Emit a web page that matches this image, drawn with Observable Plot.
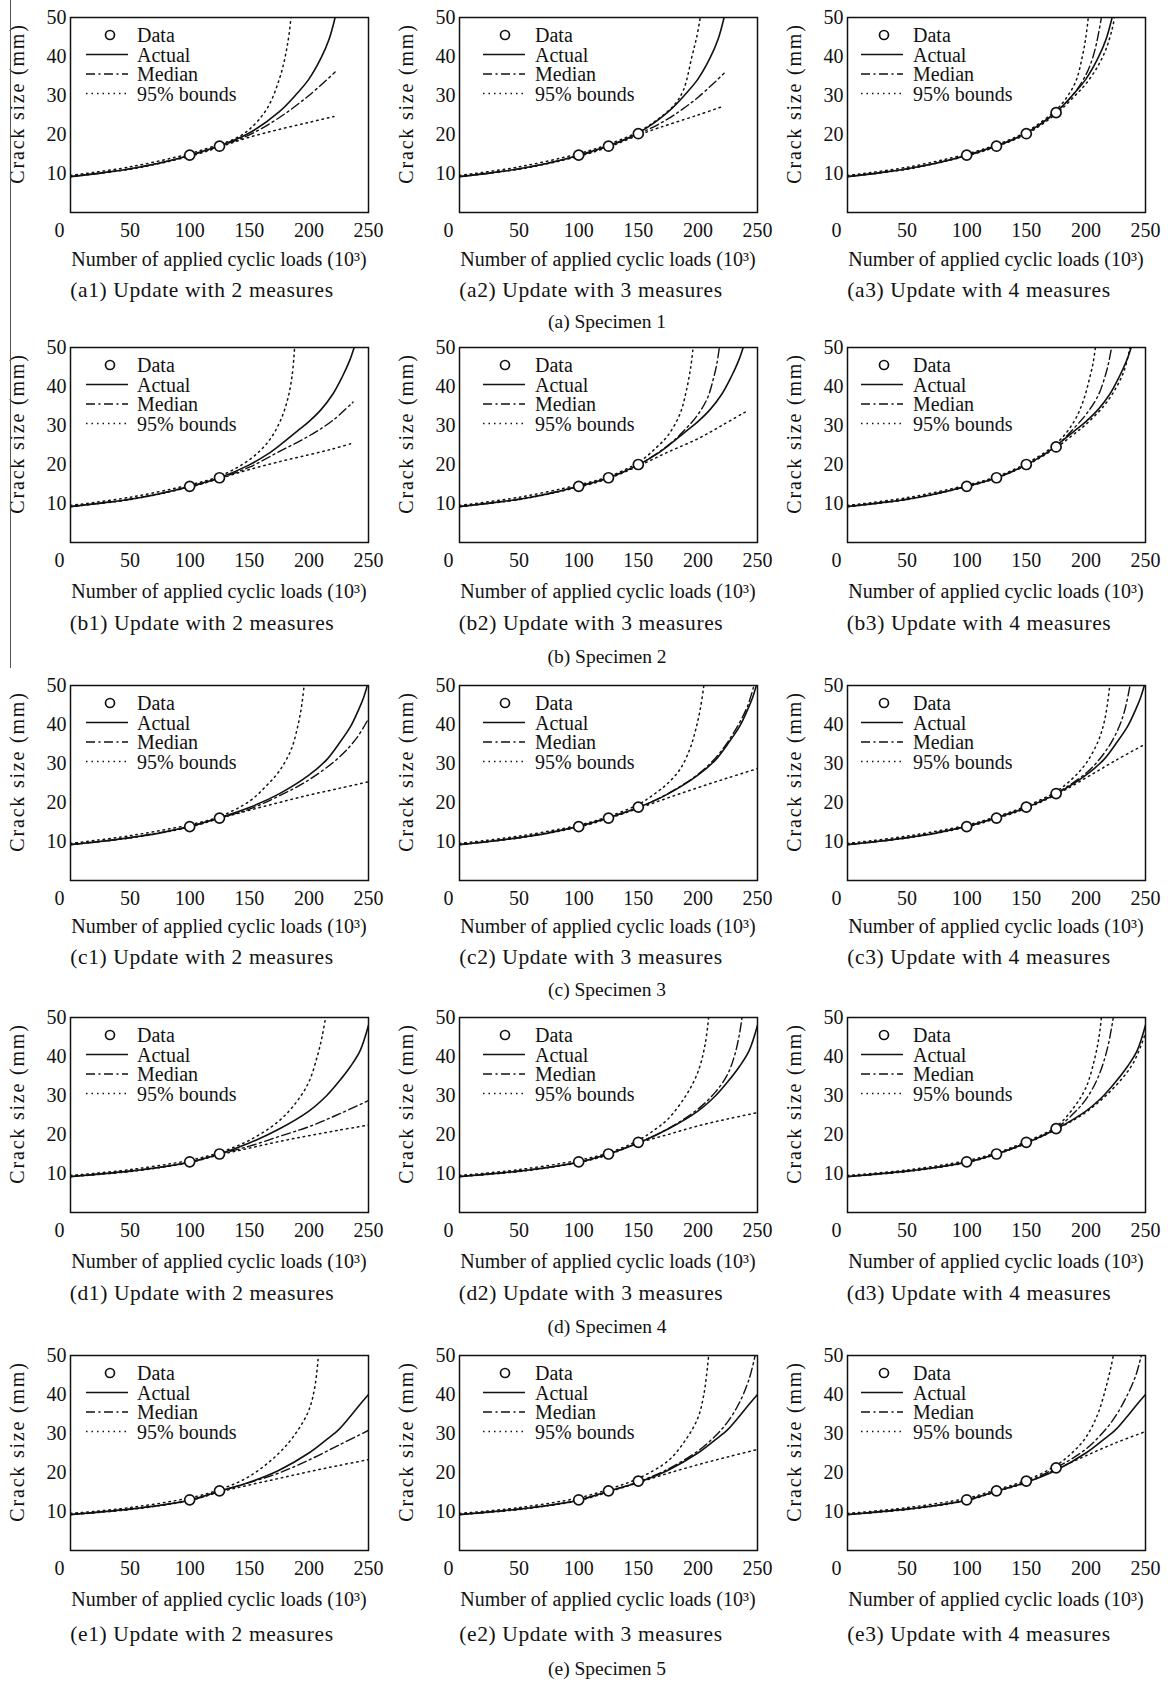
<!DOCTYPE html>
<html><head><meta charset="utf-8">
<script src="https://cdn.jsdelivr.net/npm/d3@7"></script>
<script src="https://cdn.jsdelivr.net/npm/@observablehq/plot@0.6"></script>
<style>
body{margin:0;background:#fff;}
#root{position:relative;width:1168px;height:1681px;font-family:"Liberation Serif","Times New Roman",Times,serif;color:#111;overflow:hidden;}
.panel{position:absolute;}
.cap{position:absolute;font-size:19.5px;transform:translate(-50%,-50%);white-space:nowrap;z-index:5;}
.edge{position:absolute;left:10px;top:0;width:1.3px;height:668px;background:#555;z-index:6;}
</style></head><body><div id="root"><div class="edge"></div></div>
<script>
// ---- tick labels and text ----
const xTicks = [0, 50, 100, 150, 200, 250];
const yTicks = [10, 20, 30, 40, 50];
const xLabel = "Number of applied cyclic loads (10³)";
const yLabel = "Crack size (mm)";
const specimenTitles = ["(a) Specimen 1", "(b) Specimen 2", "(c) Specimen 3", "(d) Specimen 4", "(e) Specimen 5"];
const rowLetters = ["a", "b", "c", "d", "e"];
const measureCounts = [2, 3, 4];
const legendLabels = ["Data", "Actual", "Median", "95% bounds"];

// ---- measured data (cycles in 10^3, crack size mm) ----
const cycles = [100, 125, 150, 175];
const data1 = [14.7, 17.0, 20.2, 25.6];
const data2 = [14.4, 16.6, 20.0, 24.5];
const data3 = [13.8, 16.0, 18.8, 22.3];
const data4 = [13.0, 15.0, 18.0, 21.5];
const data5 = [13.0, 15.3, 17.8, 21.2];

// ---- actual crack growth per specimen ----
const actual1 = [[0,9.2],[25,10.1],[50,11.2],[75,12.7],[100,14.7],[125,17.1],[150,20.4],[175,25.8],[190,30.5],[200,34.2],[210,39.5],[217,44.5],[222,50]];
const actual2 = [[0,9.2],[25,10.1],[50,11.1],[75,12.5],[100,14.4],[125,16.6],[150,19.9],[165,22.6],[175,24.8],[190,28.5],[200,31],[210,34],[220,38],[228,42.5],[234,46.5],[238,50]];
const actual3 = [[0,9.2],[25,10],[50,11],[75,12.2],[100,13.9],[125,16.1],[150,18.7],[175,22.2],[200,27],[215,31],[225,35],[235,39.5],[242,44],[246,47],[249,50]];
const actual4 = [[0,9.2],[25,9.9],[50,10.6],[75,11.6],[100,12.9],[125,15],[150,17.8],[175,21.4],[200,26],[215,30],[225,33.5],[235,37.5],[243,41.5],[250,48]];
const actual5 = [[0,9.2],[25,9.9],[50,10.6],[75,11.6],[100,12.9],[125,15.2],[150,17.5],[175,20.6],[200,25],[215,28.5],[225,31],[235,34.5],[243,37.5],[250,40]];

// ---- Specimen 1 predictions ----
const medianA1 = [[0,9.2],[50,11.2],[100,14.6],[125,17.0],[150,19.9],[175,24.3],[200,30],[222,36]];
const upperA1 = [[0,9.5],[50,11.7],[100,15.1],[125,17.5],[137,18.8],[150,21.3],[165,26.7],[176,35],[182,43],[185,50]];
const lowerA1 = [[0,9.2],[50,11.1],[100,14.4],[125,16.8],[150,19.3],[175,21.3],[200,23.1],[221,24.6]];
const medianA2 = [[0,9.2],[50,11.2],[100,14.6],[125,17.0],[150,20.1],[165,22.3],[180,25],[200,29.5],[222,35.7]];
const upperA2 = [[0,9.5],[50,11.7],[100,15.1],[125,17.5],[150,20.7],[165,23.6],[180,27.5],[188,31.5],[195,40],[199,45],[202,50]];
const lowerA2 = [[0,9.2],[50,11.1],[100,14.4],[125,16.8],[150,19.8],[165,21.5],[175,22.5],[200,25],[222,27.3]];
const medianA3 = [[0,9.2],[50,11.2],[100,14.6],[125,17.0],[150,20.3],[175,25.7],[190,30.5],[200,35.3],[205,39],[209,43.5],[213,50]];
const upperA3 = [[0,9.5],[50,11.6],[100,15.0],[125,17.4],[150,20.7],[175,26.3],[185,30],[192,34],[197,40],[200,45],[202,50]];
const lowerA3 = [[0,9.2],[50,11.1],[100,14.5],[125,16.9],[150,20.1],[175,25.3],[190,29.7],[200,33],[210,37.5],[217,42],[222,47],[224,50]];

// ---- Specimen 2 predictions ----
const medianB1 = [[0,9.2],[50,11.1],[100,14.3],[125,16.5],[150,19.3],[175,23.3],[200,27.3],[220,31.3],[237,36]];
const upperB1 = [[0,9.5],[50,11.6],[100,14.8],[125,17.0],[150,21.2],[165,25.5],[175,30.5],[182,36.5],[186,43],[188,50]];
const lowerB1 = [[0,9.2],[50,11.0],[100,14.2],[125,16.4],[150,18.7],[175,20.7],[200,22.5],[220,24.0],[237,25.5]];
const medianB2 = [[0,9.2],[50,11.1],[100,14.4],[125,16.6],[150,19.9],[175,24.9],[190,29.2],[200,32.8],[208,37],[213,42],[216,46],[218,50]];
const upperB2 = [[0,9.5],[50,11.6],[100,14.8],[125,16.9],[150,20.5],[165,24.3],[175,27.5],[185,33],[190,38.5],[194,45],[196,50]];
const lowerB2 = [[0,9.2],[50,11.0],[100,14.2],[125,16.4],[150,19.6],[175,23.2],[200,26.6],[220,30],[240,33.5]];
const medianB3 = [[0,9.2],[50,11.1],[100,14.4],[125,16.6],[150,19.9],[175,24.8],[190,29.3],[200,32.8],[210,37.5],[216,42.5],[219,46],[221.5,50]];
const upperB3 = [[0,9.5],[50,11.5],[100,14.7],[125,16.9],[150,20.3],[175,25.3],[190,31],[198,36.5],[203,42],[206,46],[208,50]];
const lowerB3 = [[0,9.2],[50,11.0],[100,14.3],[125,16.5],[150,19.8],[175,24.3],[190,27.8],[200,30.3],[215,35],[225,39.5],[232,44],[237,50]];

// ---- Specimen 3 predictions ----
const medianC1 = [[0,9.2],[50,11],[100,13.8],[125,16],[150,18.3],[175,21.7],[200,25.8],[225,31.5],[240,36.5],[250,41.5]];
const upperC1 = [[0,9.5],[50,11.5],[100,14.3],[125,16.4],[150,20.3],[165,24.5],[175,28],[185,33.5],[191,40],[194,45],[196,50]];
const lowerC1 = [[0,9.2],[50,10.9],[100,13.7],[125,15.9],[150,18.0],[175,20.0],[200,21.9],[225,23.6],[250,25.3]];
const medianC2 = [[0,9.2],[50,11],[100,13.9],[125,16.1],[150,18.7],[175,22.3],[200,27.2],[215,31.5],[225,35.5],[235,40.5],[242,45],[247,50]];
const upperC2 = [[0,9.5],[50,11.4],[100,14.2],[125,16.4],[150,19.5],[165,22.5],[175,25],[185,28.5],[193,33.5],[198,38.5],[202,44],[205,50]];
const lowerC2 = [[0,9.2],[50,10.9],[100,13.7],[125,15.9],[150,18.5],[175,21.2],[200,23.8],[225,26.3],[250,28.7]];
const medianC3 = [[0,9.2],[50,11],[100,13.9],[125,16.1],[150,18.7],[175,22.4],[200,27.5],[215,32.5],[225,37.5],[232,43],[237,50]];
const upperC3 = [[0,9.5],[50,11.4],[100,14.2],[125,16.4],[150,19.1],[175,22.8],[190,26.5],[200,30],[210,35.5],[216,41.5],[220,50]];
const lowerC3 = [[0,9.2],[50,10.9],[100,13.7],[125,15.9],[150,18.5],[175,22.0],[200,26.3],[225,30.8],[250,35]];

// ---- Specimen 4 predictions ----
const medianD1 = [[0,9.2],[50,10.6],[100,12.9],[125,15],[150,17],[175,19.5],[200,22],[225,25.2],[250,28.7]];
const upperD1 = [[0,9.5],[50,11.0],[100,13.4],[125,15.4],[150,18.5],[175,23.5],[190,28.5],[200,33.5],[207,40],[211,45],[214,50]];
const lowerD1 = [[0,9.2],[50,10.5],[100,12.8],[125,14.8],[150,16.5],[175,18.2],[200,19.7],[225,21.1],[250,22.4]];
const medianD2 = [[0,9.2],[50,10.6],[100,12.9],[125,15],[150,17.9],[175,21.5],[200,26.5],[215,31],[225,35.5],[231,40.5],[235,46],[237,50]];
const upperD2 = [[0,9.5],[50,11.0],[100,13.4],[125,15.3],[150,18.5],[165,21.5],[175,24],[190,30],[200,36],[206,43],[209,50]];
const lowerD2 = [[0,9.2],[50,10.5],[100,12.8],[125,14.8],[150,17.8],[175,20],[200,22.2],[225,24],[250,25.6]];
const medianD3 = [[0,9.2],[50,10.6],[100,12.9],[125,15],[150,17.9],[175,21.6],[190,25.5],[200,29],[210,34.5],[218,42],[223,50]];
const upperD3 = [[0,9.5],[50,10.9],[100,13.3],[125,15.3],[150,18.2],[175,22],[190,27],[200,32],[207,39],[211,45],[213,50]];
const lowerD3 = [[0,9.2],[50,10.5],[100,12.8],[125,14.9],[150,17.7],[175,21.3],[200,25.7],[225,32.5],[240,38.5],[250,46]];

// ---- Specimen 5 predictions ----
const medianE1 = [[0,9.2],[50,10.6],[100,12.9],[125,15.2],[150,17.4],[175,19.9],[200,23.2],[225,27],[250,30.8]];
const upperE1 = [[0,9.5],[50,11.0],[100,13.5],[125,15.6],[150,19],[175,25],[190,30.5],[200,36],[205,42],[208,50]];
const lowerE1 = [[0,9.2],[50,10.5],[100,12.8],[125,15.0],[150,16.8],[175,18.5],[200,20.2],[225,21.8],[250,23.3]];
const medianE2 = [[0,9.2],[50,10.6],[100,12.9],[125,15.2],[150,17.6],[175,20.9],[200,25.5],[215,29.5],[225,33],[235,38],[243,44],[248,50]];
const upperE2 = [[0,9.5],[50,11.0],[100,13.5],[125,15.7],[150,18.5],[175,23],[190,28.5],[200,34],[205,40],[208,47],[209,50]];
const lowerE2 = [[0,9.2],[50,10.5],[100,12.8],[125,15],[150,17.4],[175,19.8],[200,22],[225,24],[250,25.9]];
const medianE3 = [[0,9.2],[50,10.6],[100,12.9],[125,15.2],[150,17.6],[175,21.2],[200,26],[215,30.5],[225,34.5],[235,40],[242,45],[246.5,50]];
const upperE3 = [[0,9.5],[50,11.0],[100,13.4],[125,15.6],[150,18.0],[175,21.8],[190,25.5],[200,29],[210,35],[217,42],[221,47],[223,50]];
const lowerE3 = [[0,9.2],[50,10.5],[100,12.8],[125,15.1],[150,17.4],[175,20.8],[200,24.3],[225,27.6],[250,30.5]];

// ---- assemble lookup tables ----
const specimens = [
  {title: specimenTitles[0], actual: actual1, data: data1},
  {title: specimenTitles[1], actual: actual2, data: data2},
  {title: specimenTitles[2], actual: actual3, data: data3},
  {title: specimenTitles[3], actual: actual4, data: data4},
  {title: specimenTitles[4], actual: actual5, data: data5}
];
const predictions = [
  [{median: medianA1, upper: upperA1, lower: lowerA1}, {median: medianA2, upper: upperA2, lower: lowerA2}, {median: medianA3, upper: upperA3, lower: lowerA3}],
  [{median: medianB1, upper: upperB1, lower: lowerB1}, {median: medianB2, upper: upperB2, lower: lowerB2}, {median: medianB3, upper: upperB3, lower: lowerB3}],
  [{median: medianC1, upper: upperC1, lower: lowerC1}, {median: medianC2, upper: upperC2, lower: lowerC2}, {median: medianC3, upper: upperC3, lower: lowerC3}],
  [{median: medianD1, upper: upperD1, lower: lowerD1}, {median: medianD2, upper: upperD2, lower: lowerD2}, {median: medianD3, upper: upperD3, lower: lowerD3}],
  [{median: medianE1, upper: upperE1, lower: lowerE1}, {median: medianE2, upper: upperE2, lower: lowerE2}, {median: medianE3, upper: upperE3, lower: lowerE3}]
];

// ---- layout ----
const FONT = '"Liberation Serif","Times New Roman",Times,serif';
const INK = "#111";
const W = 390, MT = 17, FH = 195, MB = 104, ML = 70, FW = 298;
const rowTops = [0, 330, 668, 1000, 1338];
const colLefts = [0, 389, 777];
const legendCols = [{c: 40, t: 67, l0: 16, l1: 58}, {c: 46, t: 76, l0: 24, l1: 66}, {c: 37, t: 66, l0: 14, l1: 56}];
const axisLabelDy = [47, 49, 46, 49, 49];
const subtitleDy = [78, 81, 77, 81, 84];
const specimenTitleY = [322, 657, 990, 1327, 1669];
const DOT = "1.5,4", DASHDOT = "9,3.5,2,3.5";

const root = document.getElementById("root");

specimens.forEach((spec, r) => {
  measureCounts.forEach((k, c) => {
    const pred = predictions[r][c];
    const pts = cycles.slice(0, k).map((x, i) => [x, spec.data[i]]);
    const svg = Plot.plot({
      width: W, height: MT + FH + MB,
      marginLeft: ML, marginRight: W - ML - FW, marginTop: MT, marginBottom: MB,
      style: {background: "transparent", fontFamily: FONT, fontSize: "20px", color: INK, overflow: "visible"},
      x: {domain: [0, 250]},
      y: {domain: [0, 50]},
      marks: [
        Plot.line(pred.lower, {stroke: INK, strokeWidth: 1.5, strokeDasharray: DOT, curve: "catmull-rom", clip: true}),
        Plot.line(pred.upper, {stroke: INK, strokeWidth: 1.5, strokeDasharray: DOT, curve: "catmull-rom", clip: true}),
        Plot.line(pred.median, {stroke: INK, strokeWidth: 1.4, strokeDasharray: DASHDOT, curve: "catmull-rom", clip: true}),
        Plot.line(spec.actual, {stroke: INK, strokeWidth: 1.6, curve: "catmull-rom", clip: true}),
        Plot.dot(pts, {r: 5, stroke: INK, strokeWidth: 1.7, fill: "white"}),
        Plot.frame({stroke: INK, strokeWidth: 1.5}),
        Plot.axisX({ticks: xTicks.slice(1), tickSize: 0, tickPadding: 10, label: null}),
        Plot.text(xTicks.slice(0, 1), {x: d => d, text: d => String(d), frameAnchor: "bottom", lineAnchor: "top", dy: 10, dx: -11, fill: INK}),
        Plot.axisY({ticks: yTicks, tickSize: 0, tickPadding: 4, label: null})
      ]
    });
    const s = d3.select(svg);
    s.selectAll("text").style("font-size", "20px").style("font-family", FONT).attr("fill", INK);
    const g = s.append("g").attr("font-family", FONT).attr("fill", INK).style("font-size", "20px");
    // x axis title
    g.append("text").attr("x", ML + FW / 2).attr("y", MT + FH + axisLabelDy[r])
      .attr("text-anchor", "middle").attr("dominant-baseline", "central").text(xLabel);
    // panel subtitle
    g.append("text").attr("x", ML + FW / 2 - 17).attr("y", MT + FH + subtitleDy[r])
      .attr("text-anchor", "middle").attr("dominant-baseline", "central")
      .style("font-size", "21.5px").style("letter-spacing", "0.6px")
      .text(`(${rowLetters[r]}${c + 1}) Update with ${k} measures`);
    // y axis title
    g.append("text").attr("transform", `translate(17,${MT + FH / 2 - 11}) rotate(-90)`)
      .attr("text-anchor", "middle").attr("dominant-baseline", "central").style("letter-spacing", "1.8px").text(yLabel);
    // legend
    const L = legendCols[c];
    const rowsY = [18, 37.5, 57, 76.5];
    g.append("circle").attr("cx", ML + L.c).attr("cy", MT + rowsY[0]).attr("r", 4.5)
      .attr("fill", "none").attr("stroke", INK).attr("stroke-width", 1.7);
    const dashes = [null, null, DASHDOT, DOT];
    [1, 2, 3].forEach(i => {
      const ln = g.append("line").attr("x1", ML + L.l0).attr("x2", ML + L.l1)
        .attr("y1", MT + rowsY[i]).attr("y2", MT + rowsY[i])
        .attr("stroke", INK).attr("stroke-width", i === 1 ? 1.6 : 1.5);
      if (dashes[i]) ln.attr("stroke-dasharray", dashes[i]);
    });
    legendLabels.forEach((lab, i) => {
      g.append("text").attr("x", ML + L.t).attr("y", MT + rowsY[i])
        .attr("text-anchor", "start").attr("dominant-baseline", "central").text(lab);
    });
    const div = document.createElement("div");
    div.className = "panel";
    div.style.left = colLefts[c] + "px";
    div.style.top = rowTops[r] + "px";
    div.appendChild(svg);
    root.appendChild(div);
  });
  const t = document.createElement("div");
  t.className = "cap";
  t.style.left = "607px";
  t.style.top = specimenTitleY[r] + "px";
  t.textContent = spec.title;
  root.appendChild(t);
});
</script></body></html>
